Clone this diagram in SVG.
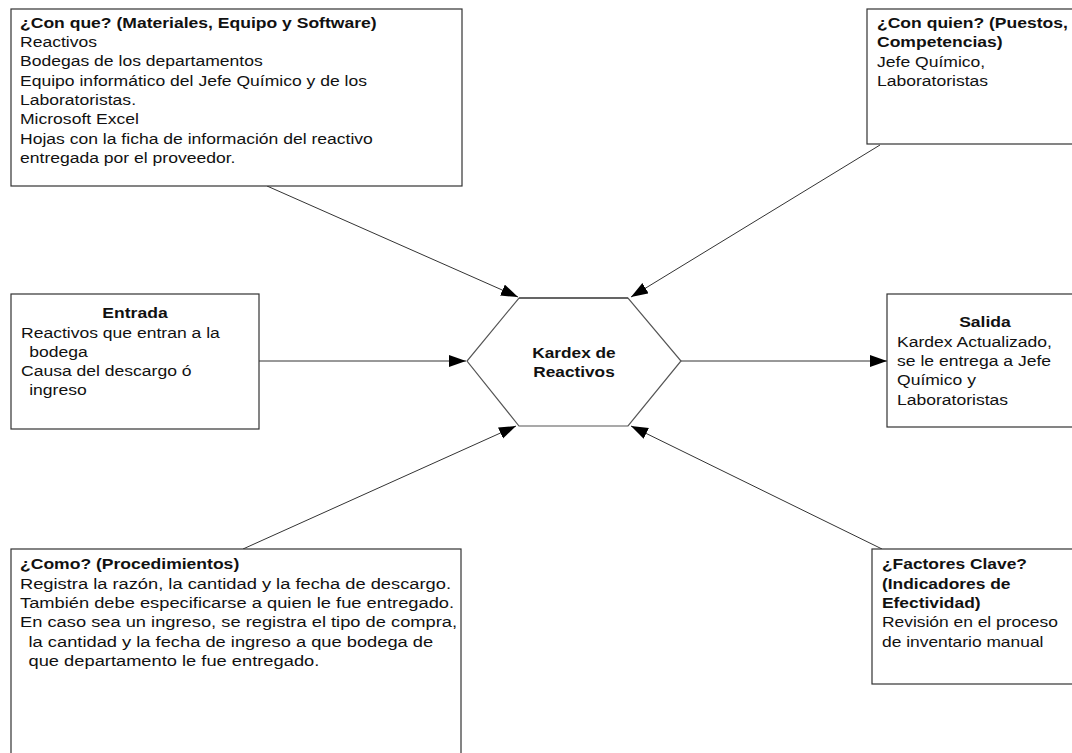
<svg xmlns="http://www.w3.org/2000/svg" width="1072" height="753" viewBox="0 0 1072 753">
  <style>
    .box { fill: #ffffff; stroke: #333333; stroke-width: 1.2; }
    .hex { fill: #ffffff; stroke: #555555; stroke-width: 1.2; }
    .edge { fill: none; stroke: #333333; stroke-width: 1; }
    text { font-family: "Liberation Sans", Arial, sans-serif; font-size: 15px; fill: #111111; }
    .b { font-weight: bold; }
    .c { text-anchor: middle; }
  </style>
  <defs>
    <marker id="arrow" markerUnits="userSpaceOnUse" markerWidth="18" markerHeight="14" refX="17" refY="6" orient="auto">
      <path d="M0,0 L17,6 L0,12 Z" fill="#000000"/>
    </marker>
  </defs>

  <rect width="1072" height="753" fill="#ffffff"/>

  <!-- connectors -->
  <g id="connectors">
    <line class="edge" x1="267" y1="186" x2="518" y2="297" marker-end="url(#arrow)"/>
    <line class="edge" x1="880" y1="145" x2="631" y2="297" marker-end="url(#arrow)"/>
    <line class="edge" x1="259" y1="361" x2="466" y2="361" marker-end="url(#arrow)"/>
    <line class="edge" x1="681" y1="361" x2="887" y2="361" marker-end="url(#arrow)"/>
    <line class="edge" x1="243" y1="549" x2="516" y2="426" marker-end="url(#arrow)"/>
    <line class="edge" x1="882" y1="549" x2="631" y2="426" marker-end="url(#arrow)"/>
  </g>

  <!-- top left: materials (text set wide, stretched around its left margin) -->
  <g id="con-que">
    <rect class="box" x="11" y="9" width="451" height="177"/>
    <g transform="matrix(1.17,0,0,1,-3.4,0)">
      <text x="20" y="28" class="b">¿Con que? (Materiales, Equipo y Software)</text>
      <text x="20" y="47">Reactivos</text>
      <text x="20" y="66">Bodegas de los departamentos</text>
      <text x="20" y="86">Equipo informático del Jefe Químico y de los</text>
      <text x="20" y="105">Laboratoristas.</text>
      <text x="20" y="124">Microsoft Excel</text>
      <text x="20" y="144">Hojas con la ficha de información del reactivo</text>
      <text x="20" y="163">entregada por el proveedor.</text>
    </g>
  </g>

  <!-- top right: people -->
  <g id="con-quien">
    <rect class="box" x="867" y="9" width="220" height="135"/>
    <g transform="matrix(1.17,0,0,1,-149.09,0)">
      <text x="877" y="28" class="b">¿Con quien? (Puestos,</text>
      <text x="877" y="47" class="b">Competencias)</text>
      <text x="877" y="67">Jefe Químico,</text>
      <text x="877" y="86">Laboratoristas</text>
    </g>
  </g>

  <!-- input -->
  <g id="entrada">
    <rect class="box" x="11" y="294" width="248" height="135"/>
    <text x="135" y="318" class="b c" transform="matrix(1.17,0,0,1,-22.95,0)">Entrada</text>
    <g transform="matrix(1.17,0,0,1,-3.57,0)">
      <text x="21" y="338">Reactivos que entran a la</text>
      <text x="28" y="357">bodega</text>
      <text x="21" y="376">Causa del descargo ó</text>
      <text x="28" y="395">ingreso</text>
    </g>
  </g>

  <!-- process -->
  <g id="kardex">
    <polygon class="hex" points="519,298 628,298 681,361 628,426 519,426 467,361"/>
    <line x1="519" y1="298" x2="628" y2="298" stroke="#222222" stroke-width="1.2"/>
    <g transform="matrix(1.15,0,0,1,-86.1,0)">
      <text x="574" y="358" class="b c">Kardex de</text>
      <text x="574" y="377" class="b c">Reactivos</text>
    </g>
  </g>

  <!-- output -->
  <g id="salida">
    <rect class="box" x="887" y="294" width="200" height="133"/>
    <text x="985" y="327" class="b c" transform="matrix(1.17,0,0,1,-167.45,0)">Salida</text>
    <g transform="matrix(1.17,0,0,1,-152.49,0)">
      <text x="897" y="347">Kardex Actualizado,</text>
      <text x="897" y="366">se le entrega a Jefe</text>
      <text x="897" y="385">Químico y</text>
      <text x="897" y="405">Laboratoristas</text>
    </g>
  </g>

  <!-- bottom left: procedures -->
  <g id="como">
    <rect class="box" x="11" y="549" width="450" height="220"/>
    <text x="20" y="569" class="b" transform="matrix(1.17,0,0,1,-3.4,0)">¿Como? (Procedimientos)</text>
    <g transform="matrix(1.22,0,0,1,-4.4,0)">
      <text x="20" y="589">Registra la razón, la cantidad y la fecha de descargo.</text>
      <text x="20" y="608">También debe especificarse a quien le fue entregado.</text>
      <text x="20" y="627">En caso sea un ingreso, se registra el tipo de compra,</text>
      <text x="27" y="647">la cantidad y la fecha de ingreso a que bodega de</text>
      <text x="27" y="666">que departamento le fue entregado.</text>
    </g>
  </g>

  <!-- bottom right: key factors -->
  <g id="factores">
    <rect class="box" x="872" y="549" width="215" height="135"/>
    <g transform="matrix(1.16,0,0,1,-141.12,0)">
      <text x="882" y="569" class="b">¿Factores Clave?</text>
      <text x="882" y="589" class="b">(Indicadores de</text>
      <text x="882" y="608" class="b">Efectividad)</text>
      <text x="882" y="627">Revisión en el proceso</text>
      <text x="882" y="647">de inventario manual</text>
    </g>
  </g>
</svg>
